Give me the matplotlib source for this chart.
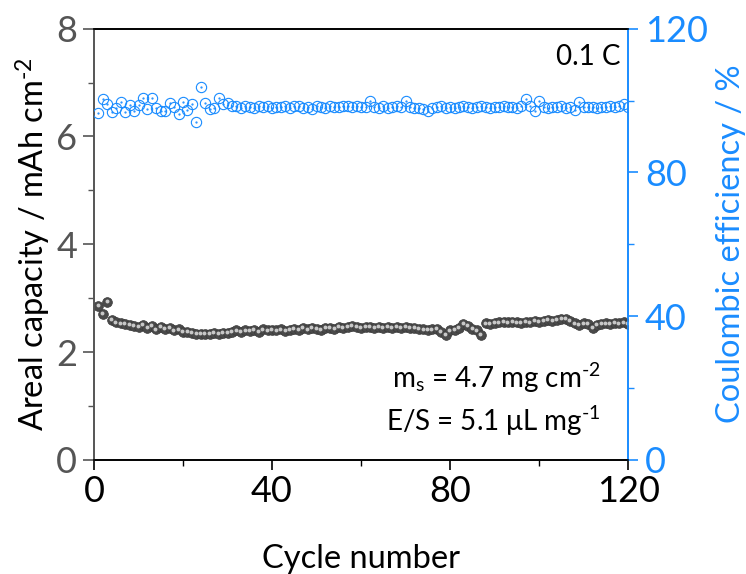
import matplotlib
matplotlib.use('Agg')
import matplotlib.pyplot as plt
from matplotlib.ticker import MultipleLocator
from matplotlib.transforms import offset_copy

plt.rcParams['font.family'] = ['Lato', 'DejaVu Sans']
plt.rcParams['mathtext.fontset'] = 'custom'
plt.rcParams['mathtext.rm'] = 'Lato'
plt.rcParams['mathtext.it'] = 'Lato'

# Daten
cycles = list(range(1, 121))
capacity = [
    2.85, 2.70, 2.93, 2.60, 2.55, 2.53, 2.52, 2.50, 2.49, 2.47,
    2.50, 2.45, 2.48, 2.42, 2.46, 2.43, 2.44, 2.40, 2.42, 2.38,
    2.37, 2.35, 2.34, 2.33, 2.34, 2.33, 2.35, 2.34, 2.36, 2.35,
    2.38, 2.40, 2.38, 2.40, 2.39, 2.41, 2.38, 2.42, 2.40, 2.41,
    2.40, 2.42, 2.39, 2.41, 2.43, 2.41, 2.44, 2.42, 2.45, 2.43,
    2.41, 2.44, 2.45, 2.43, 2.47, 2.45, 2.46, 2.48, 2.46, 2.45,
    2.47, 2.46, 2.45, 2.46, 2.45, 2.46, 2.45, 2.46, 2.45, 2.46,
    2.45, 2.44, 2.43, 2.42, 2.41, 2.42, 2.43, 2.38, 2.31, 2.40,
    2.41, 2.45, 2.52, 2.48, 2.43, 2.40, 2.31, 2.53, 2.52, 2.54,
    2.55, 2.56, 2.55, 2.56, 2.55, 2.54, 2.56, 2.55, 2.57, 2.56,
    2.58, 2.59, 2.58, 2.60, 2.61, 2.61, 2.58, 2.53, 2.50, 2.53,
    2.52, 2.45, 2.50, 2.52, 2.53, 2.52, 2.54, 2.53, 2.55, 2.52,
]
efficiency = [
    96.5, 100.3, 99.0, 96.9, 97.8, 99.5, 96.7, 98.7, 97.2, 98.7,
    100.6, 97.6, 100.6, 97.8, 97.2, 97.2, 99.2, 98.2, 96.3, 99.6,
    97.4, 99.0, 94.1, 103.8, 99.4, 97.6, 97.8, 100.6, 99.0, 99.2,
    98.6, 98.4, 98.0, 98.5, 98.3, 98.0, 98.4, 98.2, 98.5, 97.9,
    98.3, 98.1, 98.4, 98.0, 98.4, 98.6, 97.8, 98.3, 97.7, 98.5,
    98.2, 98.0, 98.4, 98.3, 98.1, 98.4, 98.5, 98.2, 98.4, 98.3,
    98.1, 99.9, 98.2, 98.0, 98.4, 97.8, 98.2, 98.5, 98.1, 99.9,
    98.3, 98.0, 97.8, 97.6, 97.0, 97.8, 98.2, 98.4, 98.0, 98.3,
    97.9, 98.2, 98.4, 98.1, 98.0, 98.3, 98.4, 98.2, 98.0, 98.3,
    98.1, 98.4, 98.2, 98.3, 98.0, 98.4, 100.3, 98.4, 97.0, 100.0,
    98.2, 98.0, 98.3, 98.1, 98.4, 98.0, 98.2, 97.3, 99.6, 98.3,
    98.1, 98.2, 97.9, 98.3, 98.1, 98.4, 98.2, 98.5, 99.0, 98.3,
]

blue = '#1A8CFF'
grey_axis = '#555555'

fig = plt.figure(figsize=(7.46, 5.74), dpi=100)
ax = fig.add_axes([0.126, 0.199, 0.716, 0.751])
ax2 = ax.twinx()

# Kapazitaet: dunkelgraue "Kugeln" mit Glanzpunkt
ax.plot(cycles, capacity, 'o', ms=7.0, mfc='#4a4a4a', mec='#3a3a3a', mew=0.5, zorder=3)
hl = offset_copy(ax.transData, fig=fig, x=-0.6, y=0.6, units='points')
ax.plot(cycles, capacity, 'o', ms=2.8, mfc='#c8c8c8', mec='none', transform=hl, zorder=4)

# Coulomb-Effizienz: offene blaue Kreise
ax2.plot(cycles, efficiency, 'o', ms=7.4, mfc='none', mec=blue, mew=0.8, zorder=3)
ax2.plot(cycles, efficiency, '.', ms=1.2, color=blue, zorder=3)

ax.set_xlim(0, 120)
ax.set_ylim(0, 8)
ax2.set_ylim(0, 120)

ax.xaxis.set_major_locator(MultipleLocator(40))
ax.xaxis.set_minor_locator(MultipleLocator(20))
ax.yaxis.set_major_locator(MultipleLocator(2))
ax.yaxis.set_minor_locator(MultipleLocator(1))
ax2.yaxis.set_major_locator(MultipleLocator(40))
ax2.yaxis.set_minor_locator(MultipleLocator(20))

ax.tick_params(axis='x', which='major', direction='out', length=7, width=1.2, labelsize=26, pad=4, colors='black')
ax.tick_params(axis='x', which='minor', direction='out', length=4, width=1.0)
ax.tick_params(axis='y', which='major', direction='out', length=8, width=1.2, labelsize=26, pad=4,
               colors=grey_axis, labelcolor=grey_axis)
ax.tick_params(axis='y', which='minor', direction='out', length=4, width=1.0, colors=grey_axis)
ax2.tick_params(axis='y', which='major', direction='out', length=7, width=1.2, labelsize=26, pad=5,
                colors=blue, labelcolor=blue)
ax2.tick_params(axis='y', which='minor', direction='out', length=4, width=1.0, colors=blue)

for a in (ax, ax2):
    a.spines['top'].set_color('black')
    a.spines['bottom'].set_color('black')
    a.spines['left'].set_color(grey_axis)
    a.spines['right'].set_color(blue)
    for s in a.spines.values():
        s.set_linewidth(1.2)

ax.set_xlabel('Cycle number', fontsize=23.5, labelpad=26)
ax.set_ylabel('Areal capacity / mAh cm$^{\\text{-2}}$', fontsize=23.5, labelpad=2)
ax2.set_ylabel('Coulombic efficiency / %', fontsize=23.5, color=blue, labelpad=6)

ax.text(0.985, 0.935, '0.1 C', transform=ax.transAxes, fontsize=20, ha='right', va='center')
ax.text(0.948, 0.166, 'm$_\\mathregular{s}$ = 4.7 mg cm$^{\\text{-2}}$', transform=ax.transAxes,
        fontsize=20, ha='right', va='baseline')
ax.text(0.948, 0.066, 'E/S = 5.1 μL mg$^{\\text{-1}}$', transform=ax.transAxes,
        fontsize=20, ha='right', va='baseline')

plt.savefig('out.png', dpi=100)
